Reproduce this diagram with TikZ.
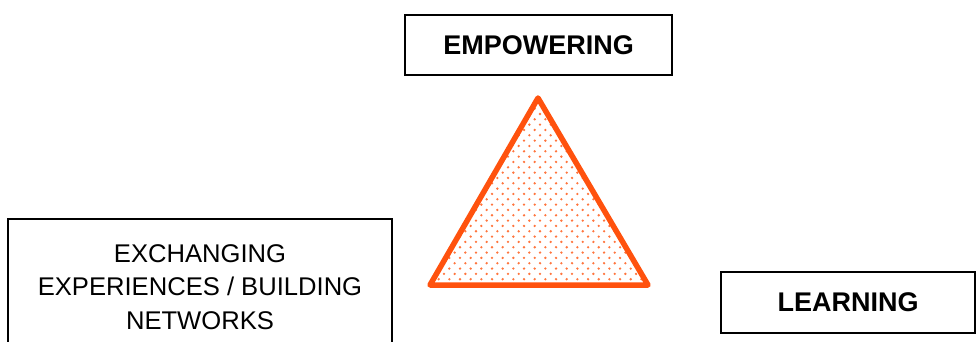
\documentclass[tikz,border=0pt]{standalone}
\usepackage{fontspec}
\setmainfont{Liberation Sans}
\usetikzlibrary{positioning}
\definecolor{naranja}{RGB}{255,82,14}

\tikzset{caja/.style={draw, line width=1.5pt, outer sep=0pt, inner sep=0pt, align=center, font=\fontsize{27}{33.5}\selectfont}}

\begin{document}
\begin{tikzpicture}[x=1pt,y=-1pt]
  \useasboundingbox (0,0) rectangle (976,342);
  % Nodos
  \node[caja, minimum width=267pt, minimum height=60pt] (empowering) at (538.5,45) {\bfseries EMPOWERING};
  \node[caja, minimum width=384pt, minimum height=136pt, font=\fontsize{25.6}{33.5}\selectfont] (exchanging) [below left=144pt and 13pt of empowering] {EXCHANGING\\EXPERIENCES / BUILDING\\NETWORKS};
  \node[caja, minimum width=254pt, minimum height=61pt] (learning) [below right=197pt and 49pt of empowering] {\bfseries LEARNING};

  % Triangulo
  \coordinate (apex) at (538,98);
  \coordinate (baseleft) at (430,285);
  \coordinate (baseright) at (648,285);
  \begin{scope}
    \clip (apex) -- (baseleft) -- (baseright) -- cycle;
    \foreach \i in {0,...,36}
      \foreach \j in {0,...,21}
        \fill[naranja!80] ({428+10.67*\j+5.33*mod(\i,2)},{98+5.33*\i}) circle (1.3pt);
  \end{scope}
  \draw[naranja, line width=5.5pt, line join=round] (apex) -- (baseleft) -- (baseright) -- cycle;
\end{tikzpicture}
\end{document}
